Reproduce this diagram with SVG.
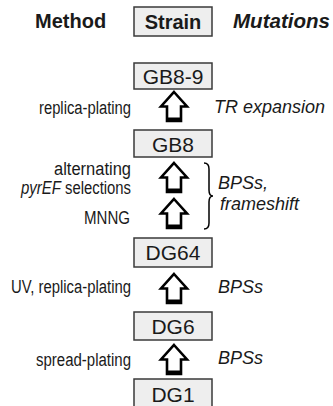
<svg xmlns="http://www.w3.org/2000/svg" xmlns:xlink="http://www.w3.org/1999/xlink" width="333" height="406" viewBox="0 0 333 406">
<style>
.box{fill:#eeeeee;stroke:#3a3a3a;stroke-width:1.5}
.bt{font-family:"Liberation Sans",Arial,sans-serif;font-size:21px;fill:#1a1a1a;text-anchor:middle}
.hd{font-family:"Liberation Sans",Arial,sans-serif;font-size:20px;font-weight:bold;fill:#1a1a1a}
.lt{font-family:"Liberation Sans",Arial,sans-serif;font-size:18px;fill:#1a1a1a;text-anchor:end}
.rt{font-family:"Liberation Sans",Arial,sans-serif;font-size:18px;font-style:italic;fill:#1a1a1a}
.arr{fill:#fff;stroke:#000;stroke-width:2.6;stroke-linejoin:miter}
</style>
<defs>
<g id="arrow">
<path class="arr" d="M0,1 L13,15.5 L7,15.5 L7,30 L-7,30 L-7,15.5 L-13,15.5 Z"/>
<rect x="-7" y="26.5" width="14" height="4" fill="#000"/>
</g>
</defs>
<g id="header">
<text class="hd" x="35" y="28">Method</text>
<rect class="box" x="134" y="7" width="78" height="29"/>
<text class="hd" x="173" y="29" text-anchor="middle">Strain</text>
<text class="hd" x="233" y="28" font-style="italic" textLength="97" lengthAdjust="spacingAndGlyphs">Mutations</text>
</g>
<g id="GB8-9"><rect class="box" x="134" y="63" width="78" height="26"/><text class="bt" x="173" y="84">GB8-9</text></g>
<g id="GB8"><rect class="box" x="134" y="130" width="78" height="27"/><text class="bt" x="173" y="152">GB8</text></g>
<g id="DG64"><rect class="box" x="134" y="238" width="78" height="29"/><text class="bt" x="173" y="260">DG64</text></g>
<g id="DG6"><rect class="box" x="134" y="312" width="78" height="28"/><text class="bt" x="173" y="334">DG6</text></g>
<g id="DG1"><rect class="box" x="134" y="379" width="78" height="32"/><text class="bt" x="173" y="402">DG1</text></g>
<g id="connectors">
<use xlink:href="#arrow" x="174" y="91"/>
<use xlink:href="#arrow" x="174" y="162"/>
<use xlink:href="#arrow" x="174" y="198"/>
<use xlink:href="#arrow" x="174" y="273"/>
<use xlink:href="#arrow" x="174" y="344"/>
<path d="M204,163 q5,0 5,6 v21 q0,6 4,6 q-4,0 -4,6 v21 q0,6 -5,6" fill="none" stroke="#000" stroke-width="1.5"/>
</g>
<g id="labels">
<text class="lt" x="131" y="175" font-size="15" textLength="77" lengthAdjust="spacingAndGlyphs">alternating</text>
<text class="lt" x="61" y="193.5" font-size="15" font-style="italic" textLength="40" lengthAdjust="spacingAndGlyphs">pyrEF</text>
<text class="lt" x="131" y="193.5" font-size="15" textLength="66" lengthAdjust="spacingAndGlyphs">selections</text>
<text class="lt" x="131" y="114" textLength="92" lengthAdjust="spacingAndGlyphs">replica-plating</text>
<text class="lt" x="130" y="224" textLength="46" lengthAdjust="spacingAndGlyphs">MNNG</text>
<text class="lt" x="131" y="293" textLength="120" lengthAdjust="spacingAndGlyphs">UV, replica-plating</text>
<text class="lt" x="131" y="366" textLength="95" lengthAdjust="spacingAndGlyphs">spread-plating</text>
<text class="rt" x="214" y="113">TR expansion</text>
<text class="rt" x="218" y="189">BPSs,</text>
<text class="rt" x="220" y="210">frameshift</text>
<text class="rt" x="218" y="293">BPSs</text>
<text class="rt" x="218" y="364">BPSs</text>
</g>
</svg>
